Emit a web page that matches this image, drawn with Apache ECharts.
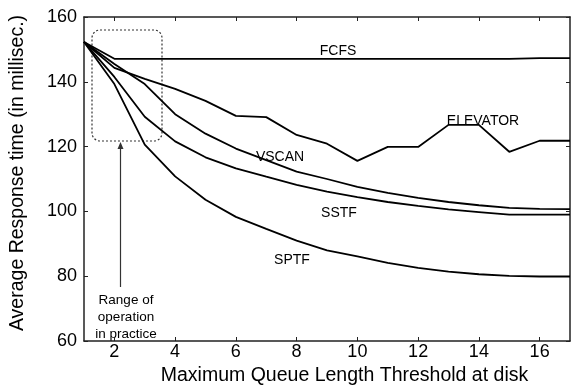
<!DOCTYPE html>
<html>
<head>
<meta charset="utf-8">
<script src="https://cdn.jsdelivr.net/npm/echarts@6/dist/echarts.min.js"></script>
<style>
html, body { margin: 0; padding: 0; background: #fff; }
#chart { width: 571px; height: 391px; }
</style>
</head>
<body>
<div id="chart"></div>
<script>
var queueLen = [1, 2, 3, 4, 5, 6, 7, 8, 9, 10, 11, 12, 13, 14, 15, 16, 17];
var fcfs = [152.3, 147.1, 147.1, 147.1, 147.1, 147.1, 147.1, 147.1, 147.1, 147.1, 147.1, 147.1, 147.1, 147.1, 147.1, 147.3, 147.3];
var elevator = [152.3, 144.3, 140.9, 137.8, 134.1, 129.5, 129.1, 123.6, 120.9, 115.6, 119.9, 119.9, 126.7, 126.7, 118.4, 121.8, 121.8];
var vscan = [152.3, 145.5, 139.3, 130.0, 124.0, 119.4, 115.8, 112.3, 110.0, 107.6, 105.7, 104.2, 102.9, 101.9, 101.1, 100.8, 100.7];
var sstf = [152.3, 141.5, 129.2, 121.6, 116.7, 113.3, 110.7, 108.2, 106.1, 104.4, 102.9, 101.7, 100.6, 99.8, 99.0, 99.0, 99.0];
var sptf = [152.3, 139.3, 120.6, 110.8, 103.6, 98.3, 94.6, 91.0, 88.0, 86.1, 84.1, 82.6, 81.4, 80.6, 80.1, 79.9, 79.9];
var xTicks = [2, 4, 6, 8, 10, 12, 14, 16];

var font = "'Liberation Sans', Arial, Helvetica, sans-serif";
var ink = '#000';
var axisInk = '#222';

function pairs(ys)
{
    var out = [];
    for (var i = 0; i < queueLen.length; i++) {
        out.push([queueLen[i], ys[i]]);
    }
    return out;
}

function lineSeries(name, ys)
{
    return {
        name: name,
        type: 'line',
        data: pairs(ys),
        showSymbol: false,
        symbol: 'none',
        smooth: false,
        lineStyle: { color: ink, width: 1.8 },
        silent: true
    };
}

function label(text, x, y, size)
{
    return {
        type: 'text',
        x: x,
        y: y,
        style: {
            text: text,
            fill: ink,
            font: (size || 14) + 'px ' + font,
            align: 'center',
            verticalAlign: 'middle'
        }
    };
}

var baseAxisLine = { show: true, lineStyle: { color: axisInk, width: 1.5 } };

var chart = echarts.init(document.getElementById('chart'));
var option = {
    animation: false,
    backgroundColor: '#fff',
    grid: { left: 84, right: 1, top: 17, bottom: 45 },
    xAxis: [
        {
            type: 'value', min: 1, max: 17, position: 'bottom',
            axisLine: baseAxisLine,
            axisTick: { show: true, inside: true, length: 4, customValues: xTicks, lineStyle: { color: axisInk } },
            axisLabel: { customValues: xTicks, margin: 2, color: ink, fontSize: 18, fontFamily: font },
            splitLine: { show: false },
            name: 'Maximum Queue Length Threshold at disk',
            nameLocation: 'middle',
            nameGap: 25,
            nameTextStyle: { color: ink, fontSize: 19.5, fontFamily: font, padding: [0, 0, 0, 35] }
        },
        {
            type: 'value', min: 1, max: 17, position: 'top',
            axisLine: baseAxisLine,
            axisTick: { show: true, inside: true, length: 4, customValues: xTicks, lineStyle: { color: axisInk } },
            axisLabel: { show: false },
            splitLine: { show: false }
        }
    ],
    yAxis: [
        {
            type: 'value', min: 60, max: 160, interval: 20, position: 'left',
            axisLine: baseAxisLine,
            axisTick: { show: true, inside: true, length: 4, lineStyle: { color: axisInk } },
            axisLabel: { margin: 7, color: ink, fontSize: 18, fontFamily: font },
            splitLine: { show: false },
            name: 'Average Response time (in millisec.)',
            nameLocation: 'middle',
            nameGap: 56,
            nameTextStyle: { color: ink, fontSize: 19.5, fontFamily: font, padding: [0, 0, 0, 12] }
        },
        {
            type: 'value', min: 60, max: 160, interval: 20, position: 'right',
            axisLine: baseAxisLine,
            axisTick: { show: true, inside: true, length: 4, lineStyle: { color: axisInk } },
            axisLabel: { show: false },
            splitLine: { show: false }
        }
    ],
    series: [
        lineSeries('FCFS', fcfs),
        lineSeries('ELEVATOR', elevator),
        lineSeries('VSCAN', vscan),
        lineSeries('SSTF', sstf),
        lineSeries('SPTF', sptf)
    ],
    graphic: [
        label('FCFS', 338, 51),
        label('ELEVATOR', 483, 121),
        label('VSCAN', 280, 157),
        label('SSTF', 339, 213),
        label('SPTF', 292, 260),
        label('Range of', 126, 300, 13.5),
        label('operation', 126, 317, 13.5),
        label('in practice', 126, 334, 13.5),
        {
            type: 'rect',
            shape: { x: 92, y: 30, width: 70, height: 111, r: 8 },
            style: { fill: 'none', stroke: '#333', lineWidth: 1.2, lineDash: [2, 2] }
        },
        {
            type: 'line',
            shape: { x1: 120.5, y1: 146, x2: 120.5, y2: 287 },
            style: { stroke: '#333', lineWidth: 1.2 }
        },
        {
            type: 'polygon',
            shape: { points: [[120.5, 142], [117.5, 149], [123.5, 149]] },
            style: { fill: '#333' }
        }
    ]
};
chart.setOption(option);
</script>
</body>
</html>
